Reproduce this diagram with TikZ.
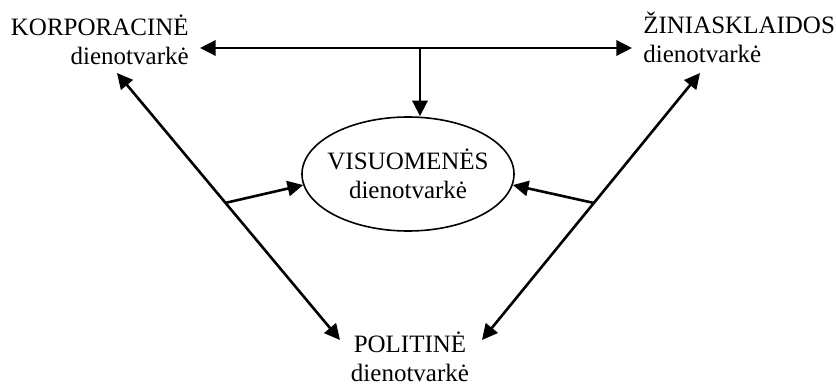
\documentclass[tikz,border=0pt]{standalone}
\usepackage{fontspec}
\setmainfont{Liberation Serif}
\usetikzlibrary{arrows.meta,shapes.geometric}

\begin{document}
\begin{tikzpicture}[x=0.5pt, y=-0.5pt, line width=1.3pt,
  >={Triangle[length=7.8pt,width=7.6pt]},
  every node/.style={font=\fontsize{12.5}{14.5}\selectfont, inner sep=0pt}]

\useasboundingbox (0,0) rectangle (836,385);

  % Dienotvarkės

\node[anchor=base east, align=right] (korp) at (190,65) {KORPORACINĖ\\dienotvarkė};
\node[anchor=base west, align=left] (zin) at (642,63) {ŽINIASKLAIDOS\\dienotvarkė};
\node[anchor=base, align=center] (pol) at (410,381) {POLITINĖ\\dienotvarkė};
\node[draw, ellipse, line width=0.8pt, inner xsep=-5pt, minimum width=106pt, minimum height=57pt, align=center] (pub) at (408,174) {VISUOMENĖS\\dienotvarkė};

\coordinate (korpH) at (200,48);
\coordinate (zinH) at (632,48);
\coordinate (mid) at (420,48);
\coordinate (korpD) at (117,73);
\coordinate (zinD) at (700,73);
\coordinate (polL) at (340,340);
\coordinate (polR) at (482,340);
\coordinate (brL) at (225,203);
\coordinate (brR) at (594,203); % atšaka nuo dešinės linijos

% Rodyklės
\draw[<->] (korpH) -- (zinH);
\draw[->] (mid) -- (mid |- pub.north);
\draw[<->] (korpD) -- (polL);
\draw[<->] (zinD) -- (polR);
\draw[->] (brL) -- (pub.186);
\draw[->] (brR) -- (pub.354);

\end{tikzpicture}
\end{document}
